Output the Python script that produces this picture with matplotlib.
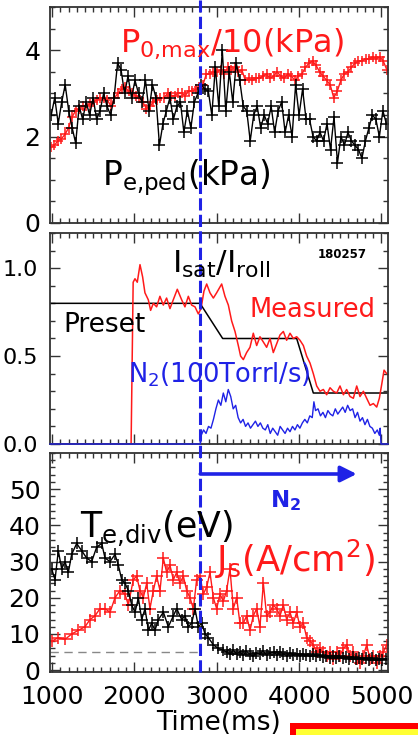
import numpy as np
import matplotlib
matplotlib.use('Agg')
import matplotlib.pyplot as plt
from matplotlib.ticker import MultipleLocator
from matplotlib.patches import Rectangle
import matplotlib.transforms as mtransforms

plt.rcParams['font.family'] = ['DejaVu Sans']
plt.rcParams['mathtext.fontset'] = 'dejavusans'
plt.rcParams['mathtext.default'] = 'regular'

# ---------------- data ----------------
x_ticks = [1000, 2000, 3000, 4000, 5000]
n2_start = 2800  # ms, start of N2 injection

# Panel 1: pedestal electron pressure (kPa)
pe_ped = [2.5, 2.9, 2.3, 2.8, 3.2,
          2.6, 2.2, 1.85, 2.7, 2.4, 2.8,
          2.5, 2.9, 2.4, 2.6, 3.0, 2.7, 2.5, 2.9,
          3.7, 3.55, 3.0,
          3.4, 2.9, 3.3, 3.0,
          2.8, 3.3, 2.6, 3.2, 2.9,
          1.8,
          2.3, 2.6, 2.9, 2.4, 2.7,
          2.8, 2.1, 2.6, 2.2, 2.8,
          3.0, 3.2, 3.1, 3.05,
          2.5,
          3.6, 2.7, 4.0,
          2.6, 3.5, 2.8, 3.7, 3.3,
          2.7, 2.6, 1.9, 2.5, 2.7, 2.2,
          2.5, 2.3, 2.7, 2.1, 2.6, 2.8, 2.1, 2.5, 2.0,
          3.2, 2.5, 3.1, 2.4,
          2.4, 2.0, 1.9, 2.1, 1.9, 2.3, 1.7, 2.45, 1.4,
          2.0, 1.8, 2.1, 1.9, 1.8, 1.7, 1.5, 1.9,
          2.2, 2.5, 2.4, 2.0, 2.6, 2.3]
# Panel 1: core pressure / 10 (kPa)
p0_max = [1.75, 1.8, 1.9, 1.95, 2.05,
          2.2, 2.45, 2.6,
          2.65, 2.7, 2.7, 2.75,
          2.8, 2.85, 2.9, 2.9, 2.85,
          2.7,
          2.9, 3.0, 3.1, 3.15, 3.05, 3.0, 2.95,
          2.9, 2.8, 2.65, 2.7, 2.8, 2.85,
          2.9, 2.9, 3.0, 2.95, 2.95, 3.0, 3.0, 2.95, 3.05,
          3.05, 3.1, 3.15, 3.2,
          3.45,
          3.45, 3.5, 3.5, 3.55, 3.45, 3.6, 3.55, 3.6, 3.5, 3.55,
          3.3, 3.35, 3.3, 3.35,
          3.35, 3.4, 3.45, 3.35, 3.4, 3.5, 3.4, 3.35, 3.45, 3.4, 3.3, 3.4, 3.45,
          3.6, 3.7, 3.75, 3.65,
          3.5, 3.4, 3.3, 3.2,
          2.9,
          3.05,
          3.3, 3.45, 3.5, 3.6,
          3.7, 3.75, 3.75, 3.8, 3.8, 3.85, 3.8, 3.85, 3.75,
          3.55]

# Panel 2: Isat/Iroll measured
meas_t = [975, 1960, 1985, 2007, 2035, 2068, 2100, 2128, 2169, 2197, 2230, 2270, 2310,
          2351, 2391, 2432, 2472, 2521, 2574, 2614, 2655, 2695, 2736, 2776, 2809,
          2845, 2878, 2918, 2959, 2999, 3060, 3100, 3141, 3181, 3222, 3262, 3290,
          3323, 3363, 3404, 3444, 3485, 3525, 3566, 3606, 3647, 3687, 3728, 3768,
          3809, 3849, 3890, 3930, 3971, 4011, 4052, 4092, 4133, 4173, 4214, 4254,
          4295, 4335, 4376, 4416, 4457, 4497, 4538, 4578, 4619, 4659, 4700, 4740,
          4781, 4821, 4862, 4902, 4943, 4975, 5004, 5032, 5064]
meas_v = [0.0, 0.0, 0.92, 0.94, 0.92, 1.02, 0.95, 0.86, 0.82, 0.76, 0.80, 0.78, 0.84,
          0.79, 0.83, 0.77, 0.82, 0.88, 0.82, 0.78, 0.84, 0.79, 0.78, 0.74, 0.77,
          0.87, 0.91, 0.86, 0.83, 0.86, 0.91, 0.84, 0.79, 0.70, 0.64, 0.56, 0.50,
          0.48, 0.52, 0.55, 0.63, 0.56, 0.61, 0.58, 0.55, 0.60, 0.52, 0.57, 0.62,
          0.64, 0.59, 0.63, 0.60, 0.61, 0.59, 0.56, 0.50, 0.46, 0.40, 0.33, 0.30,
          0.31, 0.28, 0.32, 0.30, 0.29, 0.33, 0.28, 0.31, 0.27, 0.26, 0.33, 0.27,
          0.30, 0.26, 0.22, 0.23, 0.21, 0.26, 0.34, 0.42, 0.40]
# Panel 2: preset waveform
preset_t = [975, 2797, 3072, 3971, 4173, 5080]
preset_v = [0.8, 0.8, 0.6, 0.6, 0.29, 0.29]
# Panel 2: N2 flow (100 Torr l/s)
n2_t = [975, 2800, 2812, 2840, 2870, 2900, 2930, 2960, 2990, 3020, 3050, 3080, 3110,
        3140, 3170, 3200, 3230, 3260, 3290, 3320, 3350, 3380, 3410, 3440, 3470, 3500,
        3530, 3560, 3590, 3620, 3650, 3680, 3710, 3740, 3770, 3800, 3830, 3860, 3890,
        3920, 3950, 3980, 4010, 4040, 4070, 4100, 4130, 4160, 4180, 4200, 4230, 4260,
        4290, 4320, 4350, 4380, 4410, 4440, 4470, 4500, 4530, 4560, 4590, 4620, 4650,
        4680, 4710, 4740, 4770, 4800, 4830, 4860, 4890, 4920, 4950, 4975, 4985, 4995, 5080]
n2_v = [0.0, 0.0, 0.05, 0.08, 0.06, 0.10, 0.09, 0.14, 0.20, 0.25, 0.22, 0.29, 0.24,
        0.31, 0.27, 0.20, 0.22, 0.15, 0.12, 0.14, 0.10, 0.12, 0.09, 0.11, 0.13, 0.10,
        0.12, 0.09, 0.08, 0.11, 0.06, 0.09, 0.07, 0.05, 0.10, 0.08, 0.06, 0.09, 0.07,
        0.10, 0.08, 0.11, 0.09, 0.12, 0.14, 0.12, 0.16, 0.15, 0.24, 0.19, 0.20, 0.16,
        0.18, 0.15, 0.19, 0.17, 0.16, 0.20, 0.17, 0.19, 0.21, 0.18, 0.22, 0.19, 0.20,
        0.15, 0.18, 0.13, 0.15, 0.11, 0.14, 0.10, 0.09, 0.06, 0.08, 0.05, 0.09, 0.0, 0.0]

# Panel 3: divertor electron temperature (eV)
te_t = [995, 1036, 1076, 1117, 1157, 1198, 1238, 1299, 1360, 1420, 1481, 1542, 1603,
        1643, 1704, 1765, 1805, 1846, 1886, 1927, 1967, 2008, 2048, 2089, 2129, 2170,
        2210, 2250, 2291, 2352, 2412, 2473, 2514, 2574, 2615, 2655, 2696, 2736, 2777,
        2817, 2858, 2898, 2959, 3020, 3081, 3120, 3161, 3200, 3242, 3280, 3323, 3360,
        3400, 3444, 3480, 3525, 3560, 3606, 3650, 3690, 3730, 3770, 3810, 3850, 3890,
        3930, 3970, 4010, 4050, 4090, 4130, 4170, 4210, 4250, 4290, 4330, 4370, 4410,
        4450, 4490, 4530, 4570, 4610, 4650, 4690, 4730, 4770, 4810, 4850, 4890, 4930,
        4970, 5010, 5050]
te_v = [28, 25, 33, 28, 30, 27, 32, 35, 33, 31, 30, 34, 35,
        31, 30, 32, 29, 25, 24, 22, 18, 16, 20, 14, 17, 11,
        13, 11, 14, 16, 12, 15, 17, 14, 15, 12, 13, 17, 12,
        13, 10, 9, 7, 6, 5.5, 5, 4.5, 5.5, 4.5, 5, 4.2, 5.2,
        4.5, 3.8, 4.8, 4.5, 5.3, 4.2, 4.8, 5.0, 4.3, 5.0, 4.5, 4.0, 4.8,
        4.2, 4.6, 3.9, 4.5, 4.1, 3.8, 4.4, 3.9, 4.2, 3.7, 4.0, 3.5, 3.9,
        3.4, 3.8, 3.3, 3.6, 3.2, 3.7, 3.1, 3.5, 3.0, 3.4, 2.9, 3.3, 2.8,
        3.2, 2.9, 3.0]
# Panel 3: ion saturation current density (A/cm2)
js_t = [995, 1076, 1157, 1238, 1319, 1400, 1461, 1521, 1582, 1643, 1704, 1764, 1825,
        1886, 1926, 1987, 2027, 2068, 2108, 2149, 2189, 2230, 2270, 2311, 2351, 2392,
        2432, 2473, 2513, 2554, 2594, 2635, 2675, 2716, 2756, 2797, 2837, 2878, 2918,
        2959, 2999, 3040, 3080, 3120, 3161, 3201, 3242, 3282, 3323, 3363, 3404, 3444,
        3485, 3525, 3566, 3606, 3647, 3687, 3728, 3768, 3809, 3849, 3890, 3930, 3971,
        4011, 4052, 4092, 4133, 4173, 4214, 4254, 4295, 4335, 4376, 4416, 4457, 4497,
        4538, 4578, 4619, 4659, 4700, 4740, 4781, 4821, 4862, 4902, 4943, 4983, 5024, 5064]
js_v = [8, 9, 8.5, 10, 11, 12, 14, 15, 17, 17, 16, 20, 22,
        21, 18, 25, 26, 22, 20, 24, 17, 22, 26, 22, 31, 27,
        29, 25, 27, 24, 26, 22, 20, 17, 25, 26, 21, 23, 27,
        20, 17, 21, 19, 22, 28, 17, 20, 13, 13, 15, 11, 15,
        17, 12, 24, 15, 16, 18, 17, 15, 18, 14, 16, 13, 16,
        12, 13, 9, 8, 7, 5, 6, 5, 4, 5, 3, 5, 4,
        6, 7, 4, 5, 3, 2, 4, 7, 3, 4, 2, 4, 5, 7]
te_ref_level = 5  # eV, dashed reference line

# ---------------- styling ----------------
RED = '#ff1a1a'
BLUE = '#1f22e6'
FRAME = '#333333'
W, H = 418, 735

fig = plt.figure(figsize=(W / 100, H / 100), dpi=100)
fig.patch.set_facecolor('white')

def fax(x0, x1, ytop, ybot):
    return fig.add_axes([x0 / W, 1 - ybot / H, (x1 - x0) / W, (ybot - ytop) / H])

ax1 = fax(50, 388, 7, 223)
ax2 = fax(50, 388, 233, 444)
ax3 = fax(50, 388, 453, 672)

for ax in (ax1, ax2, ax3):
    ax.set_xlim(975, 5080)
    ax.xaxis.set_major_locator(MultipleLocator(1000))
    ax.xaxis.set_minor_locator(MultipleLocator(100))
    ax.tick_params(which='both', direction='in', top=True, right=True,
                   labelsize=18, color=FRAME, width=1.0)
    ax.tick_params(which='major', length=7)
    ax.tick_params(which='minor', length=3.5)
    for s in ax.spines.values():
        s.set_color(FRAME)
        s.set_linewidth(1.3)
    if ax is not ax3:
        ax.tick_params(labelbottom=False)

# Panel 1
t1 = np.linspace(990, 5060, len(pe_ped))
t1r = np.linspace(985, 5065, len(p0_max))
ax1.plot(t1r, p0_max, color=RED, lw=1.0, marker='+', ms=7, mew=1.1)
ax1.plot(t1, pe_ped, color='black', lw=1.0, marker='+', ms=8, mew=1.1)
ax1.set_ylim(0, 5)
ax1.yaxis.set_major_locator(MultipleLocator(2))
ax1.yaxis.set_minor_locator(MultipleLocator(0.5))
ax1.tick_params(axis='y', pad=7)

# Panel 2
ax2.plot(preset_t, preset_v, color='black', lw=1.1)
ax2.plot(meas_t, meas_v, color=RED, lw=1.1)
ax2.plot(n2_t, n2_v, color=BLUE, lw=1.0, clip_on=False, zorder=5)
ax2.set_ylim(0, 1.2)
ax2.yaxis.set_major_locator(MultipleLocator(0.5))
ax2.yaxis.set_minor_locator(MultipleLocator(0.1))
ax2.yaxis.set_major_formatter(matplotlib.ticker.FormatStrFormatter('%.1f'))
ax2.tick_params(axis='y', pad=9, labelsize=16)

# Panel 3
ax3.plot([975, n2_start], [te_ref_level, te_ref_level], color='#888888', lw=1.0,
         ls=(0, (6, 4)))
ax3.plot(js_t, js_v, color=RED, lw=1.0, marker='+', ms=8, mew=1.1)
ax3.plot(te_t, te_v, color='black', lw=1.0, marker='+', ms=8, mew=1.1)
ax3.set_ylim(-0.5, 60)
ax3.yaxis.set_major_locator(MultipleLocator(10))
ax3.yaxis.set_minor_locator(MultipleLocator(2))
ax3.set_yticks([0, 10, 20, 30, 40, 50])
ax3.set_xticks(x_ticks)
ax3.tick_params(axis='y', pad=7)
ax3.tick_params(axis='x', pad=9)
ax3.annotate('', xy=(4700, 54.2), xytext=(n2_start, 54.2),
             arrowprops=dict(arrowstyle='-|>', color=BLUE, lw=2.6,
                             mutation_scale=24, shrinkA=0, shrinkB=0))

# N2 start line spanning all panels
trans = mtransforms.blended_transform_factory(ax3.transData, fig.transFigure)
ax3.plot([n2_start, n2_start], [1 - 672 / H, 1.0], transform=trans, color=BLUE,
         lw=2.2, ls=(0, (4, 1.4)), clip_on=False, zorder=10)

# Texts
def ftext(x, y, s, **kw):
    fig.text(x / W, 1 - y / H, s, va='baseline', ha='left', **kw)

ftext(120, 52, r'P$_{0{,}max}$/10(kPa)', color=RED, fontsize=23)
ftext(102, 185, r'P$_{e{,}ped}$(kPa)', color='black', fontsize=23.5)
ftext(172, 273, r'I$_{sat}$/I$_{roll}$', color='black', fontsize=22.5)
ftext(318, 258, '180257', color='black', fontsize=8.5, fontweight='bold')
ftext(250, 317, 'Measured', color=RED, fontsize=18.5)
ftext(63, 332, 'Preset', color='black', fontsize=19)
ftext(128, 383, r'N$_2$(100Torrl/s)', color=BLUE, fontsize=18.5)
ftext(270, 507, r'$\mathbf{N_2}$', color=BLUE, fontsize=16.5)
ftext(80, 538, r'T$_{e{,}div}$(eV)', color='black', fontsize=25)
ftext(215, 572, r'J$_s$(A/cm$^2$)', color=RED, fontsize=25.5)
fig.text(219 / W, 1 - 730 / H, 'Time(ms)', va='baseline', ha='center', fontsize=19)

# cropped slide decoration at bottom right
fig.patches.append(Rectangle((290 / W, 0), (W - 290) / W, 12 / H,
                             transform=fig.transFigure, facecolor='#ff0000',
                             edgecolor='none', zorder=20))
fig.patches.append(Rectangle((296 / W, 0), (W - 296) / W, 6 / H,
                             transform=fig.transFigure, facecolor='#ffff33',
                             edgecolor='none', zorder=21))

fig.savefig('out.png', dpi=100)
